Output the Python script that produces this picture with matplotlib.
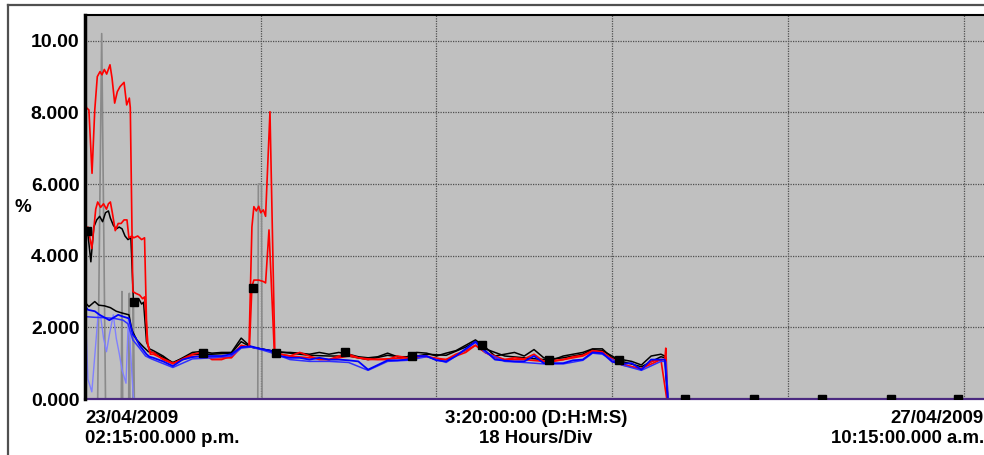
import matplotlib
matplotlib.use("Agg")
import matplotlib.pyplot as plt
from matplotlib.lines import Line2D

# hours since 23/04/2009 02:15 p.m.
red1_h = [0, 0.15, 0.4, 0.72, 1.0, 1.26, 1.54, 1.74, 1.98, 2.22, 2.56, 2.77, 3.04, 3.31, 3.59,
          4.0, 4.27, 4.54, 4.64, 4.9, 5.2, 5.6, 5.9, 6.1, 6.45, 6.7,
          7, 8, 9, 10, 11, 12, 13, 14, 15, 16, 16.8,
          17.1, 17.3, 17.55, 17.8, 18.0, 18.27, 18.5, 18.95, 19.45,
          20, 21, 22, 23, 24, 25, 26, 27, 28, 29, 30, 31, 32, 33, 34, 35, 36, 37, 38, 39,
          40, 41, 42, 43, 44, 45, 46, 47, 48, 49, 50, 51, 52, 53, 54, 55, 56, 57, 58, 59,
          59.4, 59.5, 59.7]
red1_v = [8.35, 8.13, 8.07, 6.3, 8.07, 9.0, 9.14, 9.05, 9.2, 9.07, 9.33, 8.96, 8.26, 8.58, 8.72,
          8.84, 8.21, 8.4, 8.13, 3.0, 2.95, 2.9, 2.8, 2.85, 1.5, 1.3,
          1.3, 1.1, 0.98, 1.12, 1.25, 1.3, 1.1, 1.1, 1.2, 1.5, 1.45,
          4.8, 5.37, 5.25, 5.38, 5.2, 5.28, 5.1, 8.02, 1.28,
          1.25, 1.2, 1.3, 1.2, 1.1, 1.1, 1.2, 1.25, 1.15, 1.12, 1.1, 1.1, 1.2, 1.15, 1.2, 1.2, 1.1, 1.1, 1.25, 1.35,
          1.5, 1.3, 1.15, 1.1, 1.15, 1.12, 1.25, 1.05, 1.05, 1.1, 1.18, 1.22, 1.35, 1.32, 1.05, 0.98, 0.9, 0.82, 1.05, 1.1,
          1.1, 1.42, 0.0]

red2_h = [0, 0.3, 0.7, 1.1, 1.3, 1.6, 1.9, 2.2, 2.4, 2.6, 2.8, 3.1, 3.4, 3.7, 4.0, 4.3, 4.5,
          4.8, 5.0, 5.4, 5.8, 6.1, 6.35, 6.7,
          7, 9, 11, 13, 15, 16, 16.85,
          17.1, 17.3, 17.8, 18.27, 18.5, 18.85, 19.4,
          21, 23, 25, 27, 29, 31, 33, 35, 37, 39, 40, 41, 43, 45, 47, 49, 51, 52, 53, 55, 57, 59, 59.6]
red2_v = [4.7, 4.8, 4.2, 5.3, 5.5, 5.35, 5.45, 5.3, 5.45, 5.5, 5.2, 4.7, 4.9, 4.9, 5.0, 5.0, 4.5,
          4.55, 4.5, 4.55, 4.45, 4.5, 1.6, 1.25,
          1.25, 1.0, 1.2, 1.15, 1.15, 1.45, 1.45,
          3.14, 3.32, 3.32, 3.28, 3.24, 4.72, 1.28,
          1.2, 1.15, 1.1, 1.2, 1.1, 1.12, 1.15, 1.18, 1.1, 1.3, 1.5, 1.3, 1.1, 1.1, 1.05, 1.1, 1.2, 1.33, 1.3, 0.95, 0.85, 1.1, 0.0]

black1_h = [0, 0.3, 0.6, 0.9, 1.2, 1.5, 1.8, 2.1, 2.4, 2.6, 2.9, 3.2, 3.5, 3.8, 4.1, 4.4, 4.7,
            4.95, 5.2, 5.5, 5.8, 6.0, 6.3, 6.6,
            7, 8, 9, 10, 11, 12, 13, 14, 15, 16, 17, 18, 19, 20, 21, 22, 23, 24, 25, 26, 27, 28, 29,
            30, 31, 32, 33, 34, 35, 36, 37, 38, 39, 40, 41, 42, 43, 44, 45, 46, 47, 48, 49, 50,
            51, 52, 53, 54, 55, 56, 57, 58, 59, 59.4, 59.7]
black1_v = [4.8, 4.6, 3.83, 4.8, 5.0, 5.1, 4.95, 5.2, 5.25, 5.05, 4.85, 4.75, 4.8, 4.75, 4.55, 4.45, 4.5,
            2.8, 2.75, 2.8, 2.65, 2.7, 1.6, 1.4,
            1.35, 1.2, 1.0, 1.15, 1.3, 1.33, 1.28, 1.3, 1.3, 1.7, 1.45, 1.4, 1.35, 1.3, 1.3, 1.28, 1.25, 1.3, 1.25, 1.3, 1.25, 1.18, 1.15,
            1.18, 1.28, 1.18, 1.18, 1.3, 1.28, 1.2, 1.28, 1.35, 1.5, 1.65, 1.45, 1.2, 1.25, 1.3, 1.2, 1.38, 1.15, 1.1, 1.2, 1.25,
            1.3, 1.4, 1.4, 1.15, 1.1, 1.05, 0.95, 1.2, 1.25, 1.2, 0.0]

black2_h = [0, 0.4, 1.0, 1.4, 2.0, 2.6, 3.2, 3.8, 4.5, 4.8, 5.3, 6.0, 6.5,
            7, 9, 11, 13, 15, 16, 17, 19, 21, 23, 25, 27, 29, 31, 33, 35, 37, 39, 40, 41,
            43, 45, 47, 49, 51, 52, 53, 55, 57, 59, 59.45, 59.7]
black2_v = [2.7, 2.58, 2.72, 2.62, 2.6, 2.55, 2.45, 2.4, 2.35, 1.93, 1.65, 1.45, 1.32,
            1.3, 1.02, 1.25, 1.25, 1.28, 1.6, 1.45, 1.35, 1.28, 1.22, 1.2, 1.2, 1.1, 1.22, 1.15, 1.25, 1.22, 1.45, 1.6, 1.4,
            1.2, 1.15, 1.1, 1.15, 1.25, 1.38, 1.35, 1.05, 0.9, 1.18, 1.15, 0.0]

blue1_h = [0, 0.3, 1.0, 1.5, 2.5, 3.4, 3.9, 4.5, 4.9, 5.2, 5.6, 6.3, 6.6,
           7, 8, 9, 10, 11, 12, 13, 14, 15, 16, 17, 18, 19, 20, 21, 22, 23, 24, 25, 26, 27, 28, 29,
           30, 31, 32, 33, 34, 35, 36, 37, 38, 39, 40, 41, 42, 43, 44, 45, 46, 47, 48, 49, 50,
           51, 52, 53, 54, 55, 56, 57, 58, 59, 59.4, 59.7]
blue1_v = [2.6, 2.49, 2.45, 2.35, 2.2, 2.35, 2.3, 2.25, 1.8, 1.7, 1.5, 1.25, 1.18,
           1.15, 1.05, 0.92, 1.1, 1.17, 1.2, 1.2, 1.2, 1.25, 1.45, 1.47, 1.4, 1.35, 1.2, 1.15, 1.15, 1.1, 1.15, 1.1, 1.1, 1.08, 1.05, 0.82,
           0.95, 1.08, 1.08, 1.1, 1.2, 1.2, 1.08, 1.05, 1.2, 1.4, 1.6, 1.35, 1.1, 1.07, 1.05, 1.05, 1.2, 1.0, 1.0, 1.0, 1.08,
           1.1, 1.3, 1.28, 1.04, 0.98, 1.0, 0.82, 1.1, 1.1, 1.1, 0.0]

blue2_h = [0, 1.0, 2.0, 3.0, 3.9, 4.4, 4.9, 5.5, 6.2, 6.8,
           9, 11, 13, 15, 16, 17, 18, 19, 21, 23, 25, 27, 29, 31, 33, 35, 37, 39, 40, 41,
           43, 45, 47, 49, 51, 52, 53, 55, 57, 59, 59.5, 59.75]
blue2_v = [2.3, 2.28, 2.27, 2.25, 2.2, 2.1, 1.65, 1.45, 1.2, 1.12,
           0.88, 1.12, 1.15, 1.2, 1.42, 1.45, 1.38, 1.3, 1.1, 1.05, 1.05, 1.02, 0.8, 1.05, 1.08, 1.18, 1.02, 1.38, 1.58, 1.3,
           1.05, 1.02, 0.98, 0.98, 1.08, 1.28, 1.25, 0.95, 0.8, 1.05, 1.05, 0.0]

light_h = [0, 0.1, 0.3, 0.7, 1.0, 1.35, 1.6, 1.9, 2.2, 2.5, 2.9, 3.2, 3.5, 3.8, 4.2, 4.45, 4.95, 5.1]
light_v = [8.1, 2.0, 0.55, 0.2, 1.2, 2.38, 2.3, 1.7, 1.32, 1.8, 2.35, 1.7, 1.28, 0.81, 0.44, 2.3, 0.05, 0.0]

gray_h = [0, 1.3, 1.71, 2.1, 3.72, 3.78, 3.86, 4.48, 4.54, 4.6, 4.9, 4.95, 5.05, 17.7, 17.76, 18.08, 18.14, 19]
gray_v = [0, 0, 10.2, 0, 0, 3.0, 0, 0, 2.95, 0, 0, 2.8, 0, 0, 6.0, 6.0, 0, 0]

zero_h = [0, 92.1]
zero_v = [0, 0]

marker_h = [0.2, 5.0, 12.1, 17.2, 19.6, 26.6, 33.5, 40.7, 47.5, 54.7, 61.5, 68.5, 75.5, 82.6, 89.4, 96.4]
marker_v = [4.7, 2.7, 1.28, 3.1, 1.28, 1.3, 1.2, 1.5, 1.1, 1.1, 0, 0, 0, 0, 0, 0]

y_ticks = [0, 2, 4, 6, 8, 10]
y_labels = ["0.000", "2.000", "4.000", "6.000", "8.000", "10.00"]
x_grid = [18, 36, 54, 72, 90]

plt.rcParams['font.family'] = ['Liberation Sans', 'DejaVu Sans']
plt.rcParams['font.weight'] = 'bold'

fig = plt.figure(figsize=(9.84, 4.55), dpi=100)
ax = fig.add_axes([85 / 984, 56 / 455, 899 / 984, 384 / 455])
ax.set_facecolor('#C0C0C0')

# outer frame (top and left visible)
fig.add_artist(Line2D([8 / 984, 8 / 984], [0, 450 / 455], color='#505050', lw=1.6))
fig.add_artist(Line2D([8 / 984, 1], [450 / 455, 450 / 455], color='#505050', lw=1.6))

ax.set_xlim(0, 92.1)
ax.set_ylim(0, 10.72)
ax.set_xticks(x_grid)
ax.set_xticklabels([])
ax.set_yticks(y_ticks)
ax.set_yticklabels(y_labels, fontsize=14, fontweight='bold')
ax.tick_params(length=0, pad=4)
ax.grid(True, color='#505050', linestyle=(0, (1, 1)), linewidth=0.9)
ax.set_axisbelow(True)

for s in ['right', 'bottom']:
    ax.spines[s].set_visible(False)
ax.spines['top'].set_linewidth(1.5)
ax.spines['left'].set_linewidth(2.5)

ax.plot(gray_h, gray_v, color='#8a8a8a', lw=1.2)
ax.plot(light_h, light_v, color='#8080FF', lw=1.0)
ax.plot(black2_h, black2_v, color='black', lw=1.1)
ax.plot(black1_h, black1_v, color='black', lw=1.1)
ax.plot(red2_h, red2_v, color='#FF0000', lw=1.2)
ax.plot(red1_h, red1_v, color='#FF0000', lw=1.2)
ax.plot(blue2_h, blue2_v, color='#3030FF', lw=1.1)
ax.plot(blue1_h, blue1_v, color='#0000FF', lw=1.3)
ax.plot(zero_h, zero_v, color='#4B2A80', lw=1.6, clip_on=False)
ax.plot(marker_h, marker_v, linestyle='none', marker='s', color='black', markersize=5.5, clip_on=True)

ax.text(-0.078, 0.5, '%', transform=ax.transAxes, fontsize=13.5, fontweight='bold', ha='left', va='center')

fs = 13.4
fig.text(85 / 984, 1 - 423 / 455, '23/04/2009', fontsize=fs, fontweight='bold', ha='left', va='baseline')
fig.text(85 / 984, 1 - 443 / 455, '02:15:00.000 p.m.', fontsize=fs, fontweight='bold', ha='left', va='baseline')
fig.text(536 / 984, 1 - 423 / 455, '3:20:00:00 (D:H:M:S)', fontsize=fs, fontweight='bold', ha='center', va='baseline')
fig.text(536 / 984, 1 - 443 / 455, '18 Hours/Div', fontsize=fs, fontweight='bold', ha='center', va='baseline')
fig.text(984 / 984, 1 - 423 / 455, '27/04/2009', fontsize=fs, fontweight='bold', ha='right', va='baseline')
fig.text(984 / 984, 1 - 443 / 455, '10:15:00.000 a.m.', fontsize=fs, fontweight='bold', ha='right', va='baseline')

fig.savefig('out.png', dpi=100)
